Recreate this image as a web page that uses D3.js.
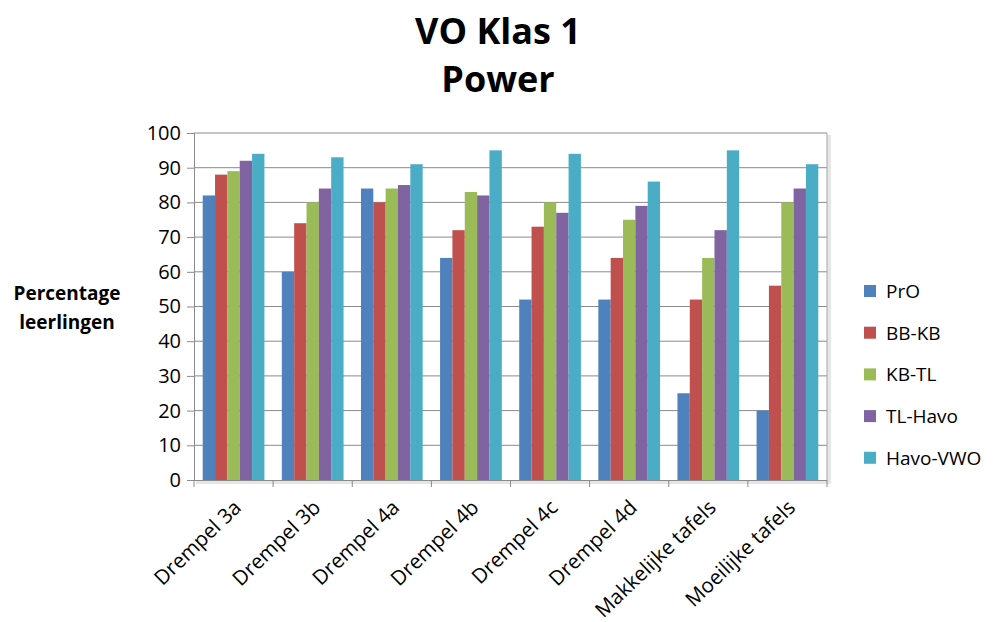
<!DOCTYPE html>
<html>
<head>
<meta charset="utf-8">
<script src="https://cdn.jsdelivr.net/npm/d3@7"></script>
<style>
  body { margin: 0; background: #fff; }
  text { font-family: "Open Sans", sans-serif; fill: #000; }
</style>
</head>
<body>
<div id="chart"></div>
<script>
const categories = ["Drempel 3a", "Drempel 3b", "Drempel 4a", "Drempel 4b", "Drempel 4c", "Drempel 4d", "Makkelijke tafels", "Moeilijke tafels"]
const seriesNames = ["PrO", "BB-KB", "KB-TL", "TL-Havo", "Havo-VWO"]
const colors = ["#4F81BD", "#C0504D", "#9BBB59", "#8064A2", "#4BACC6"]
const pro = [82, 60, 84, 64, 52, 52, 25, 20]
const bbkb = [88, 74, 80, 72, 73, 64, 52, 56]
const kbtl = [89, 80, 84, 83, 80, 75, 64, 80]
const tlhavo = [92, 84, 85, 82, 77, 79, 72, 84]
const havovwo = [94, 93, 91, 95, 94, 86, 95, 91]
const yTicks = [0, 10, 20, 30, 40, 50, 60, 70, 80, 90, 100]

const values = [pro, bbkb, kbtl, tlhavo, havovwo]

const width = 998
const height = 622
const plotLeft = 194, plotRight = 827, plotTop = 133, plotBottom = 480

const svg = d3.select("#chart").append("svg")
  .attr("width", width)
  .attr("height", height)

const x = d3.scaleBand().domain(categories).range([plotLeft, plotRight]).paddingInner(0.22).paddingOuter(0.11)
const xs = d3.scaleBand().domain(seriesNames).range([0, x.bandwidth()])
const y = d3.scaleLinear().domain([0, 100]).range([plotBottom, plotTop])

// plot area shadow (right / bottom)
svg.append("rect").attr("x", plotRight).attr("y", plotTop + 2).attr("width", 4).attr("height", plotBottom - plotTop + 2).attr("fill", "#e6e6e6")
svg.append("rect").attr("x", plotLeft + 2).attr("y", plotBottom).attr("width", plotRight - plotLeft + 2).attr("height", 4).attr("fill", "#e6e6e6")

// gridlines
svg.append("g")
  .selectAll("line")
  .data(yTicks.filter(d => d > 0))
  .enter()
  .append("line")
  .attr("x1", plotLeft).attr("x2", plotRight)
  .attr("y1", d => y(d)).attr("y2", d => y(d))
  .attr("stroke", "#8a8a8a").attr("stroke-width", 1)

svg.append("line").attr("x1", plotRight).attr("x2", plotRight).attr("y1", plotTop).attr("y2", plotBottom)
  .attr("stroke", "#a6a6a6")

// bars
const groups = svg.append("g")
  .selectAll("g")
  .data(seriesNames)
  .enter()
  .append("g")
  .attr("fill", (d, i) => colors[i])

groups.selectAll("rect")
  .data((s, si) => categories.map((c, ci) => ({ cat: c, series: s, value: values[si][ci] })))
  .enter()
  .append("rect")
  .attr("x", d => x(d.cat) + xs(d.series))
  .attr("y", d => y(d.value))
  .attr("width", xs.bandwidth())
  .attr("height", d => y(0) - y(d.value))

// y axis
const yAxis = d3.axisLeft(y).tickValues(yTicks).tickSize(7).tickPadding(6)
const gy = svg.append("g").attr("transform", `translate(${plotLeft},0)`).call(yAxis)
gy.select(".domain").attr("stroke", "#8a8a8a")
gy.selectAll(".tick line").attr("stroke", "#8a8a8a")
gy.selectAll(".tick text").attr("font-size", 20).attr("fill", "#000").attr("font-family", "Open Sans")

// x axis
svg.append("line").attr("x1", plotLeft).attr("x2", plotRight).attr("y1", plotBottom + 0.5).attr("y2", plotBottom + 0.5).attr("stroke", "#8a8a8a")
svg.append("g")
  .selectAll("line")
  .data(d3.range(categories.length + 1))
  .enter()
  .append("line")
  .attr("x1", i => plotLeft + i * x.step()).attr("x2", i => plotLeft + i * x.step())
  .attr("y1", plotBottom).attr("y2", plotBottom + 7)
  .attr("stroke", "#8a8a8a")

// rotated category labels
svg.append("g")
  .selectAll("text")
  .data(categories)
  .enter()
  .append("text")
  .attr("transform", d => `translate(${x(d) + x.bandwidth() / 2 + 9},${plotBottom + 29}) rotate(-44)`)
  .attr("text-anchor", "end")
  .attr("font-size", 20.5)
  .text(d => d)

// title
svg.append("text").attr("x", 498).attr("y", 44).attr("text-anchor", "middle")
  .attr("font-size", 36).attr("font-weight", "bold").text("VO Klas 1")
svg.append("text").attr("x", 498).attr("y", 92).attr("text-anchor", "middle")
  .attr("font-size", 36).attr("font-weight", "bold").text("Power")

// y label
svg.append("text").attr("x", 67).attr("y", 300).attr("text-anchor", "middle")
  .attr("font-size", 19).attr("font-weight", "bold").text("Percentage")
svg.append("text").attr("x", 67).attr("y", 329).attr("text-anchor", "middle")
  .attr("font-size", 19).attr("font-weight", "bold").text("leerlingen")

// legend
const legend = svg.append("g")
  .selectAll("g")
  .data(seriesNames)
  .enter()
  .append("g")
  .attr("transform", (d, i) => `translate(864,${291 + i * 41.7})`)
legend.append("rect").attr("x", 0).attr("y", -6).attr("width", 12).attr("height", 12)
  .attr("fill", (d, i) => colors[i])
legend.append("text").attr("x", 22).attr("y", 7).attr("font-size", 19).attr("fill", "#222").text(d => d)
</script>
</body>
</html>
